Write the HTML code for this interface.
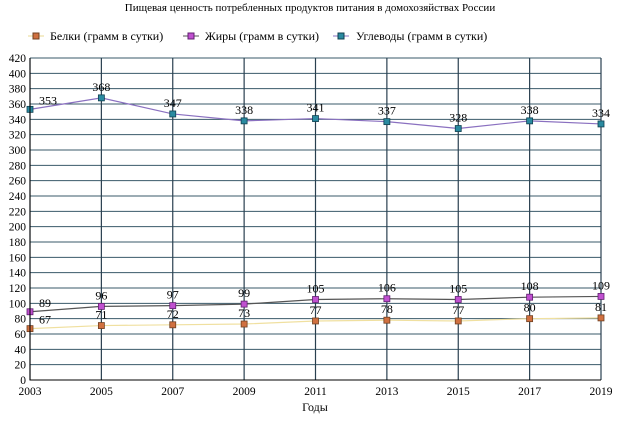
<!DOCTYPE html>
<html><head><meta charset="utf-8"><style>
body{margin:0;background:#fff;width:620px;height:428px;overflow:hidden}
svg{font-family:"Liberation Serif",serif;display:block}
</style></head><body>
<svg id="chart" width="620" height="428">
<text x="310" y="11" text-anchor="middle" font-size="11">Пищевая ценность потребленных продуктов питания в домохозяйствах России</text>
<g font-size="12">
<g><line x1="28" y1="36" x2="44" y2="36" stroke="#e8d890"/><rect x="33" y="33" width="6" height="6" fill="#d07040" stroke="#704020"/><text x="50" y="40">Белки (грамм в сутки)</text></g>
<g><line x1="183" y1="36" x2="199" y2="36" stroke="#555"/><rect x="188" y="33" width="6" height="6" fill="#c050d0" stroke="#602070"/><text x="205" y="40">Жиры (грамм в сутки)</text></g>
<g><line x1="333" y1="36" x2="349" y2="36" stroke="#8a70c0"/><rect x="338" y="33" width="6" height="6" fill="#2a8aa0" stroke="#104050"/><text x="356" y="40">Углеводы (грамм в сутки)</text></g>
</g>
<g id="grid"></g><g id="series"></g><g id="axes"></g>
<text x="315" y="411" text-anchor="middle" font-size="12">Годы</text>
</svg>
<script>
const years=[2003,2005,2007,2009,2011,2013,2015,2017,2019];
const belki=[67,71,72,73,77,78,77,80,81];
const zhiry=[89,96,97,99,105,106,105,108,109];
const uglevody=[353,368,347,338,341,337,328,338,334];
const yTicks=[0,20,40,60,80,100,120,140,160,180,200,220,240,260,280,300,320,340,360,380,400,420];
const NS="http://www.w3.org/2000/svg";
const X0=30,X1=601,Y0=380,Y1=58;
const xs=i=>X0+(X1-X0)*i/(years.length-1);
const ys=v=>Y0-(Y0-Y1)*v/420;
function mk(t,a,p){const e=document.createElementNS(NS,t);for(const k in a)e.setAttribute(k,a[k]);p.appendChild(e);return e;}
const grid=document.getElementById('grid'),axes=document.getElementById('axes'),ser=document.getElementById('series');
yTicks.forEach(v=>{
 const l=mk('line',{x1:X0,x2:X1,y1:ys(v),y2:ys(v),stroke:'#3a5a6a','stroke-width':1},grid);
 
 
 const t=mk('text',{x:X0-4,y:ys(v)+4,'text-anchor':'end','font-size':11.5},axes);t.textContent=v;
 
 
});
years.forEach((y,i)=>{
 const l=mk('line',{x1:xs(i),x2:xs(i),y1:Y1,y2:Y0,stroke:'#2a4050','stroke-width':1.2},grid);
 
 
 const t=mk('text',{x:xs(i),y:395,'text-anchor':'middle','font-size':11.5},axes);t.textContent=y;
 
 
});
const ax=mk('path',{d:`M${X0},${Y1}V${Y0}H${X1}`,stroke:'#000',fill:'none'},axes);


function series(vals,lc,fc,sc,name){
 const g=mk('g',{},ser);
 
 
 mk('polyline',{points:vals.map((v,i)=>xs(i)+','+ys(v)).join(' '),fill:'none',stroke:lc,'stroke-width':1.2},g);
 vals.forEach((v,i)=>{
  const r=mk('rect',{x:xs(i)-3,y:ys(v)-3,width:6,height:6,fill:fc,stroke:sc,'stroke-width':0.8},g);
  
  
  const t=mk('text',{x:xs(i)+(i==0?9:0),y:ys(v)-7+(i==0?2:0),'text-anchor':i==0?'start':'middle','font-size':12},g);t.textContent=v;
  
  
 });
}
series(belki,'#f0e0a0','#d07040','#704020','series-belki');
series(zhiry,'#555','#c050d0','#602070','series-zhiry');
series(uglevody,'#8a70c0','#2a8aa0','#104050','series-uglevody');
</script>
</body></html>
